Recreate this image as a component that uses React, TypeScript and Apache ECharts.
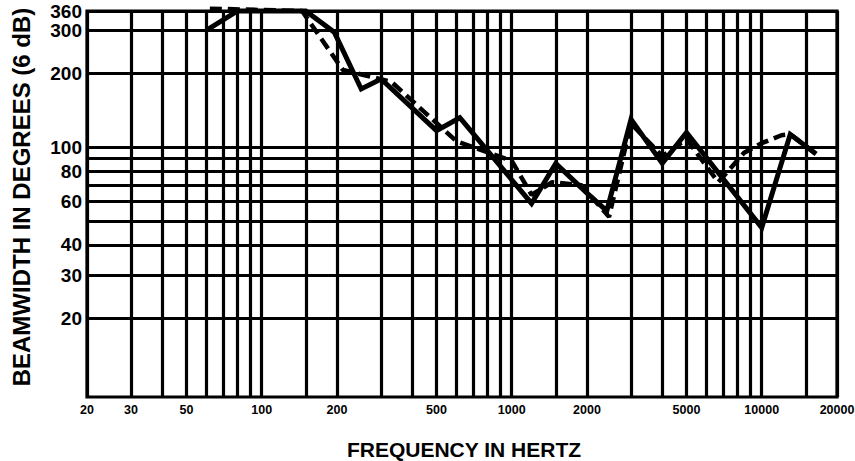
import React, { useEffect, useRef } from "react";
import * as echarts from "echarts";

// Grid lines (log paper)
const xGridValues = [20, 30, 40, 50, 60, 70, 80, 90, 100, 150, 200, 300, 400, 500, 600, 700, 800, 900, 1000, 1500, 2000, 3000, 4000, 5000, 6000, 7000, 8000, 9000, 10000, 15000, 20000];
const yGridValues = [20, 30, 40, 50, 60, 70, 80, 90, 100, 200, 300, 360];

// Tick labels
const xTickLabels = [20, 30, 50, 100, 200, 500, 1000, 2000, 5000, 10000, 20000];
const yTickLabels = [20, 30, 40, 60, 80, 100, 200, 300, 360];

// Solid curve
const solidFreq = [60, 80, 150, 195, 250, 300, 500, 620, 1200, 1500, 2000, 2400, 3000, 4000, 5000, 10000, 13000, 16500];
const solidBeam = [300, 360, 360, 295, 173, 190, 117, 132, 59, 86, 65, 55, 130, 86, 115, 47, 113, 94];

// Dashed curve
const dashedFreq = [62, 145, 211, 330, 600, 1000, 1200, 1450, 1900, 2450, 3000, 4000, 5000, 6700, 8500, 10000, 12000, 13000, 16500];
const dashedBeam = [368, 360, 207, 185, 106, 88, 64, 72, 70, 52, 125, 92, 108, 72, 95, 104, 112, 113, 94];

const X_MIN = 20;
const X_MAX = 20000;
const Y_MIN = 9.57;
const Y_MAX = 360;

const inside = (v: number, lo: number, hi: number) =>
  Math.min(Math.max(v, lo * (1 + 1e-7)), hi * (1 - 1e-7));

export default function App() {
  const ref = useRef<HTMLDivElement>(null);

  useEffect(() => {
    if (!ref.current) return;
    const chart = echarts.init(ref.current, null, { renderer: "svg" });

    const gridLineStyle = { color: "#000", width: 3.2, type: "solid" as const };
    const markData = [
      ...xGridValues.map((v) => ({ xAxis: v })),
      ...yGridValues.map((v) => ({ yAxis: v })),
    ];

    const option: any = {
      animation: false,
      backgroundColor: "#fff",
      grid: {
        left: 87,
        right: 18,
        top: 11,
        bottom: 64,
        show: true,
        borderColor: "#000",
        borderWidth: 3.2,
        containLabel: false,
        outerBoundsMode: "none",
      },
      xAxis: {
        type: "log",
        logBase: 10,
        min: X_MIN,
        max: X_MAX,
        axisLine: { show: false },
        axisTick: { show: false },
        splitLine: { show: false },
        minorTick: { show: false },
        minorSplitLine: { show: false },
        axisLabel: {
          customValues: xTickLabels.map((v) => inside(v, X_MIN, X_MAX)),
          formatter: (v: number) => String(Math.round(v)),
          color: "#000",
          fontSize: 12.5,
          fontWeight: "bold",
          fontFamily: '"Liberation Sans", Arial, sans-serif',
          margin: 6,
          hideOverlap: false,
          showMinLabel: true,
          showMaxLabel: true,
        },
      },
      yAxis: {
        type: "log",
        logBase: 10,
        min: Y_MIN,
        max: Y_MAX,
        axisLine: { show: false },
        axisTick: { show: false },
        splitLine: { show: false },
        minorTick: { show: false },
        minorSplitLine: { show: false },
        axisLabel: {
          customValues: yTickLabels.map((v) => inside(v, Y_MIN, Y_MAX)),
          formatter: (v: number) => String(Math.round(v)),
          color: "#000",
          fontSize: 19,
          fontWeight: "bold",
          fontFamily: '"Liberation Sans", Arial, sans-serif',
          margin: 5,
          hideOverlap: false,
          showMinLabel: true,
          showMaxLabel: true,
        },
      },
      graphic: [
        {
          type: "text",
          x: 21,
          y: 197,
          rotation: Math.PI / 2,
          style: {
            text: "BEAMWIDTH IN DEGREES (6 dB)",
            font: 'bold 24px "Liberation Sans", Arial, sans-serif',
            fill: "#000",
            align: "center",
            verticalAlign: "middle",
            textAlign: "center",
            textVerticalAlign: "middle",
          },
        },
        {
          type: "text",
          x: 464,
          y: 449,
          style: {
            text: "FREQUENCY IN HERTZ",
            font: 'bold 21px "Liberation Sans", Arial, sans-serif',
            fill: "#000",
            align: "center",
            verticalAlign: "middle",
            textAlign: "center",
            textVerticalAlign: "middle",
          },
        },
      ],
      series: [
        {
          name: "grid",
          type: "line",
          data: [],
          silent: true,
          markLine: {
            silent: true,
            symbol: "none",
            label: { show: false },
            lineStyle: gridLineStyle,
            emphasis: { disabled: true },
            data: markData,
          },
        },
        {
          name: "solid",
          type: "line",
          data: solidFreq.map((f, i) => [f, solidBeam[i]]),
          symbol: "none",
          smooth: false,
          clip: false,
          z: 6,
          lineStyle: { color: "#000", width: 5, type: "solid", join: "miter" },
        },
        {
          name: "dashed",
          type: "line",
          data: dashedFreq.map((f, i) => [f, dashedBeam[i]]),
          symbol: "none",
          smooth: false,
          clip: false,
          z: 6,
          lineStyle: { color: "#000", width: 4.5, type: [12, 6], cap: "butt" },
        },
      ],
    };

    chart.setOption(option);
    return () => chart.dispose();
  }, []);

  return (
    <div
      ref={ref}
      style={{ position: "fixed", left: 0, top: 0, width: 855, height: 461, background: "#fff" }}
    />
  );
}
